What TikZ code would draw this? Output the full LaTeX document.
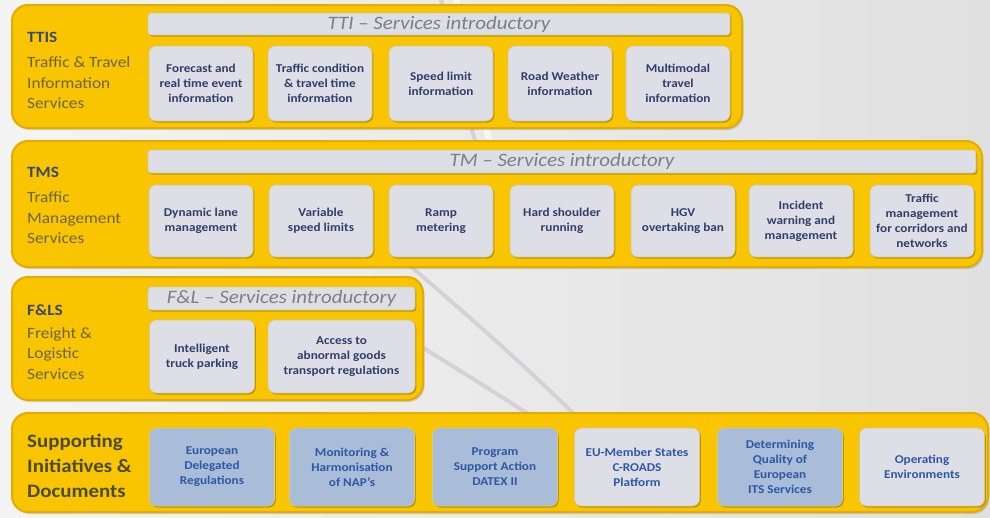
\documentclass[tikz,border=0pt]{standalone}
\usepackage{fontspec}
\setmainfont{Carlito}[FakeStretch=1.1]
\usetikzlibrary{shadows}
\definecolor{bgL}{HTML}{F4F4F4}
\definecolor{bgR}{HTML}{E0E0E0}
\definecolor{panelY}{HTML}{F8C500}
\definecolor{panelE}{HTML}{E2AD00}
\definecolor{boxG}{HTML}{DEDEE6}
\definecolor{boxE}{HTML}{CFC8A0}
\definecolor{boxB}{HTML}{A9BCD8}
\definecolor{txtN}{HTML}{2F3E6A}
\definecolor{txtB}{HTML}{2C58A6}
\definecolor{hdrT}{HTML}{7E7E86}
\definecolor{ttl}{HTML}{3B4868}
\definecolor{subt}{HTML}{6C653E}
\definecolor{supt}{HTML}{4D4A2C}
\definecolor{shd}{HTML}{A88600}
\definecolor{swoosh}{HTML}{D6D1D6}
\newcommand\lbl[4]{\node[anchor=base west, inner sep=0pt, #1] (#2) at #3 {#4};}
\begin{document}
\begin{tikzpicture}[x=1pt,y=-1pt,
  panel/.style={rounded corners=16pt, fill=panelY, draw=panelE, line width=2pt,
    drop shadow={shadow xshift=1.5pt, shadow yshift=-2pt, fill=black!45, opacity=.35}},
  svcbox/.style={rounded corners=7pt, fill=boxG, draw=boxE, line width=.6pt,
    drop shadow={shadow xshift=1.3pt, shadow yshift=-1.6pt, fill=shd, opacity=.75},
    font=\fontsize{12}{15}\selectfont\bfseries, text=txtN, align=center, inner sep=1pt},
  supbox/.style={svcbox, fill=boxB, text=txtB},
  supgray/.style={svcbox, text=txtB},
  hdr/.style={rounded corners=3pt, fill=boxG, draw=boxE, line width=.6pt,
    drop shadow={shadow xshift=1.3pt, shadow yshift=-1.6pt, fill=shd, opacity=.75},
    font=\fontsize{19}{22}\selectfont\itshape, text=hdrT, inner sep=0pt},
  ttlf/.style={font=\fontsize{15.7}{18}\selectfont\bfseries, text=ttl},
  subf/.style={font=\fontsize{15.7}{18}\selectfont, text=subt},
  supf/.style={font=\fontsize{19}{22}\selectfont\bfseries, text=supt}]
\useasboundingbox (0,0) rectangle (990,517);
\fill[left color=bgL, right color=bgR] (0,0) rectangle (990,517);
% background swooshes
\draw[swoosh, line width=4pt] (440,-5) .. controls (455,60) and (465,110) .. (478,150);
\draw[swoosh, line width=4pt] (380,240) .. controls (450,300) and (520,360) .. (585,425);
\draw[swoosh, line width=4pt] (395,330) .. controls (450,365) and (500,395) .. (545,425);
\draw[white, line width=6pt, opacity=.6] (455,-5) .. controls (470,60) and (480,110) .. (492,150);

% panels
\node[panel, minimum width=730pt, minimum height=123pt] (p1) at (377,66.5) {};
\node[panel, minimum width=970pt, minimum height=126pt] (p2) at (497,204) {};
\node[panel, minimum width=411pt, minimum height=123pt] (p3) at (217.5,338.5) {};
\node[panel, minimum width=976pt, minimum height=99pt] (p4) at (500,462.5) {};

% headers
\node[hdr, minimum width=582pt, minimum height=22pt] (h1) at (439,24) {TTI -- Services introductory};
\node[hdr, minimum width=828pt, minimum height=23pt] (h2) at (562,161.5) {TM -- Services introductory};
\node[hdr, minimum width=267pt, minimum height=23pt] (h3) at (281.5,298.5) {F\&L -- Services introductory};

% labels
\lbl{ttlf}{l1a}{(27,42)}{TTIS}
\lbl{subf}{l1b}{(27,67)}{Traffic \& Travel}
\lbl{subf}{l1c}{(27,88)}{Information}
\lbl{subf}{l1d}{(27,108)}{Services}
\lbl{ttlf}{l2a}{(27,177)}{TMS}
\lbl{subf}{l2b}{(27,202)}{Traffic}
\lbl{subf}{l2c}{(27,223)}{Management}
\lbl{subf}{l2d}{(27,243)}{Services}
\lbl{ttlf}{l3a}{(27,315)}{F\&LS}
\lbl{subf}{l3b}{(27,338)}{Freight \&}
\lbl{subf}{l3c}{(27,358)}{Logistic}
\lbl{subf}{l3d}{(27,379)}{Services}
\lbl{supf}{l4a}{(27,447)}{Supporting}
\lbl{supf}{l4b}{(27,472)}{Initiatives \&}
\lbl{supf}{l4c}{(27,497)}{Documents}

% TTIS services
\begin{scope}[every node/.append style={minimum width=104pt, minimum height=75pt}]
\node[svcbox] (s11) at (201,83.5) {Forecast and\\real time event\\information};
\node[svcbox] (s12) at (320,83.5) {Traffic condition\\\& travel time\\information};
\node[svcbox] (s13) at (441,83.5) {Speed limit\\information};
\node[svcbox] (s14) at (560,83.5) {Road Weather\\information};
\node[svcbox] (s15) at (678,83.5) {Multimodal\\travel\\information};
\end{scope}

% TMS services
\begin{scope}[every node/.append style={minimum width=104pt, minimum height=72pt}]
\node[svcbox] (s21) at (201,221) {Dynamic lane\\management};
\node[svcbox] (s22) at (321,221) {Variable\\speed limits};
\node[svcbox] (s23) at (441,221) {Ramp\\metering};
\node[svcbox] (s24) at (562,221) {Hard shoulder\\running};
\node[svcbox] (s25) at (683,221) {HGV\\overtaking ban};
\node[svcbox] (s26) at (801,221) {Incident\\warning and\\management};
\node[svcbox] (s27) at (922,221) {Traffic\\management\\for corridors and\\networks};
\end{scope}

% F&L services
\node[svcbox, minimum width=105pt, minimum height=73pt] (s31) at (202,356.5) {Intelligent\\truck parking};
\node[svcbox, minimum width=147pt, minimum height=73pt] (s32) at (341.5,356.5) {Access to\\abnormal goods\\transport regulations};

% Supporting
\begin{scope}[every node/.append style={minimum width=125pt, minimum height=78pt}]
\node[supbox] (s41) at (212,467) {European\\Delegated\\Regulations};
\node[supbox] (s42) at (352,467) {Monitoring \&\\Harmonisation\\of NAP's};
\node[supbox] (s43) at (495,467) {Program\\Support Action\\DATEX II};
\node[supgray] (s44) at (637,467) {EU-Member States\\C-ROADS\\Platform};
\node[supbox] (s45) at (780,467) {Determining\\Quality of\\European\\ITS Services};
\node[supgray] (s46) at (922,467) {Operating\\Environments};
\end{scope}
\end{tikzpicture}
\end{document}
